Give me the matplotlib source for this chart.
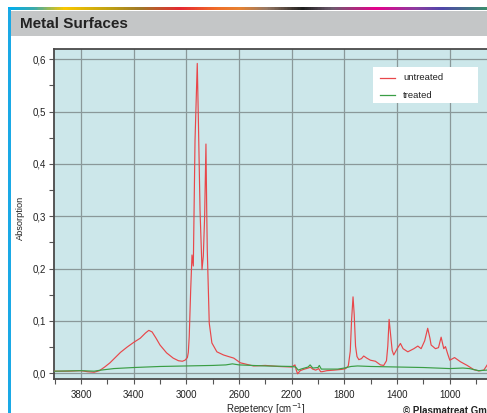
import numpy as np
import matplotlib
matplotlib.use("Agg")
import matplotlib.pyplot as plt
from matplotlib.patches import Rectangle
from matplotlib.lines import Line2D
from matplotlib.colors import LinearSegmentedColormap
from matplotlib.ticker import MultipleLocator, FuncFormatter

plt.rcParams['font.family'] = ['Liberation Sans', 'DejaVu Sans']

# ---------------- data ----------------
untreated_w = [4000, 3900, 3800, 3750, 3700, 3660, 3620, 3580, 3540, 3500, 3450, 3400,
               3350, 3310, 3285, 3260, 3230, 3200, 3150, 3100, 3060, 3030, 3010, 2992,
               2985, 2978, 2967, 2957, 2947, 2934, 2917, 2909, 2896, 2881, 2871, 2861,
               2851, 2845, 2841, 2826, 2806, 2768, 2718, 2680, 2640, 2590, 2490, 2400,
               2300, 2200, 2175, 2165, 2155, 2135, 2109, 2075, 2058, 2040, 2017, 1995,
               1980, 1970, 1932, 1880, 1818, 1790, 1770, 1755, 1745, 1734, 1725, 1715,
               1704, 1690, 1670, 1653, 1630, 1602, 1564, 1526, 1501, 1480, 1470, 1460,
               1450, 1437, 1425, 1399, 1374, 1354, 1318, 1272, 1242, 1217, 1190, 1167,
               1150, 1141, 1108, 1085, 1065, 1045, 1032, 1015, 999, 963, 918, 867, 817,
               779, 741, 720, 700]
untreated_a = [0.004, 0.004, 0.005, 0.003, 0.002, 0.005, 0.012, 0.020, 0.030, 0.040, 0.050, 0.059,
               0.067, 0.077, 0.082, 0.079, 0.067, 0.054, 0.039, 0.029, 0.024, 0.023, 0.025, 0.030,
               0.040, 0.070, 0.159, 0.226, 0.205, 0.445, 0.592, 0.490, 0.312, 0.198, 0.224, 0.300,
               0.438, 0.307, 0.236, 0.096, 0.058, 0.041, 0.035, 0.032, 0.029, 0.020, 0.014, 0.015,
               0.013, 0.012, 0.016, 0.006, -0.001, 0.005, 0.0075, 0.010, 0.0115, 0.008, 0.006, 0.009,
               0.003, 0.003, 0.005, 0.006, 0.0075, 0.009, 0.014, 0.042, 0.102, 0.146, 0.112, 0.052,
               0.032, 0.026, 0.028, 0.033, 0.029, 0.025, 0.023, 0.016, 0.015, 0.024, 0.052, 0.103,
               0.077, 0.044, 0.035, 0.047, 0.057, 0.047, 0.041, 0.047, 0.052, 0.047, 0.062, 0.086,
               0.067, 0.054, 0.047, 0.049, 0.069, 0.047, 0.051, 0.037, 0.025, 0.030, 0.022, 0.015, 0.007,
               0.0045, 0.006, 0.014, 0.022]

treated_w = [4000, 3800, 3700, 3650, 3550, 3400, 3200, 3000, 2800, 2700, 2650, 2600, 2400,
             2200, 2170, 2150, 2130, 2075, 2060, 2040, 2000, 1990, 1975, 1932, 1850, 1800,
             1750, 1700, 1600, 1400, 1200, 1000, 900, 850, 780, 720, 700]
treated_a = [0.004, 0.005, 0.004, 0.006, 0.009, 0.011, 0.013, 0.014, 0.015, 0.016, 0.018, 0.016, 0.014,
             0.013, 0.012, 0.006, 0.008, 0.012, 0.016, 0.010, 0.011, 0.015, 0.008, 0.008, 0.008, 0.010,
             0.013, 0.014, 0.013, 0.012, 0.011, 0.009, 0.010, 0.009, 0.005, 0.006, 0.007]

x_ticks = [3800, 3400, 3000, 2600, 2200, 1800, 1400, 1000]
y_ticks = [0.0, 0.1, 0.2, 0.3, 0.4, 0.5, 0.6]
series_labels = ["untreated", "treated"]
series_colors = ['#e8474a', '#3a9e45']
title = "Metal Surfaces"

# ---------------- figure ----------------
W, H = 487, 413
fig = plt.figure(figsize=(W / 100, H / 100), dpi=100)
fig.patch.set_facecolor('white')

def fx(x):
    return x / W

def fy(y):
    return 1 - y / H

def px_rect(x0, y0, x1, y1, color, z=0):
    fig.patches.append(Rectangle((fx(x0), fy(y1)), (x1 - x0) / W, (y1 - y0) / H,
                                 transform=fig.transFigure, facecolor=color,
                                 edgecolor='none', zorder=z))

# rainbow strip
stops = [(8, (0, 174, 239)), (33, (60, 170, 170)), (63, (250, 200, 0)), (110, (190, 160, 20)),
         (140, (160, 120, 40)), (180, (230, 40, 50)), (217, (240, 110, 40)), (240, (230, 130, 50)),
         (267, (150, 120, 100)), (303, (30, 30, 30)), (333, (110, 90, 110)), (377, (230, 0, 140)),
         (417, (140, 60, 160)), (443, (80, 70, 170)), (487, (60, 140, 110))]
cm = LinearSegmentedColormap.from_list(
    'strip', [((p - 8) / (487 - 8), tuple(c / 255 for c in col)) for p, col in stops])
sax = fig.add_axes([fx(8), fy(10.5), (W - 8) / W, 3.2 / H])
sax.imshow(np.linspace(0, 1, 400)[None, :], aspect='auto', cmap=cm)
sax.axis('off')

# blue left bar and grey title bar
px_rect(8.3, 8.5, 10.8, 413, '#1aa9e6')
px_rect(10.8, 10.8, 487, 35.8, '#c4c6c7')
fig.text(fx(19.5), fy(23.5), title, fontsize=11, fontweight='bold',
         color='#222222', va='center', ha='left')

# ---------------- axes ----------------
xl, xr = 4005, 400
yb, yt = -0.0115, 0.619
ax_left = 54
ax_w = (xl - xr) / 400 * 52.67
ax = fig.add_axes([fx(ax_left), (H - 379.3) / H, ax_w / W, 330 / H])
ax.set_facecolor('#cce7ea')
ax.set_xlim(xl, xr)
ax.set_ylim(yb, yt)

ax.plot(untreated_w, untreated_a, color=series_colors[0], lw=0.85, zorder=3)
ax.plot(treated_w, treated_a, color=series_colors[1], lw=0.85, zorder=3)

ax.set_xticks(x_ticks)
ax.xaxis.set_minor_locator(MultipleLocator(200))
ax.set_yticks(y_ticks)
ax.yaxis.set_minor_locator(MultipleLocator(0.05))
ax.yaxis.set_major_formatter(FuncFormatter(lambda v, p: f"{v:.1f}".replace('.', ',')))
ax.grid(True, which='major', color='#8a9899', lw=0.9, zorder=1)
ax.set_axisbelow(True)

for s in ['left', 'bottom', 'top']:
    ax.spines[s].set_color('#4a4a4a')
    ax.spines[s].set_linewidth(1.3)
ax.spines['right'].set_visible(False)

ax.tick_params(which='both', direction='out', color='#555555', width=0.8,
               labelsize=7, labelcolor='#222222')
ax.tick_params(axis='y', which='major', length=3.5, pad=2.5)
ax.tick_params(axis='y', which='minor', length=3.5)
ax.tick_params(axis='x', which='major', length=3.5, pad=4.5)
ax.tick_params(axis='x', which='minor', length=3.5)

# legend box (white, borderless) drawn in figure pixels
px_rect(373, 67, 478, 103, 'white', z=10)
for i, (lab, col) in enumerate(zip(series_labels, series_colors)):
    yy = 78 + i * 17
    fig.lines.append(Line2D([fx(380), fx(395)], [fy(yy), fy(yy)], transform=fig.transFigure,
                            color=col, lw=0.9, zorder=11))
    fig.text(fx(403), fy(yy), lab, fontsize=6.8, color='#222222', ha='left', va='center',
             zorder=12)

fig.text(fx(20.5), fy(217.5), "Absorption", rotation=90, fontsize=6.6,
         ha='center', va='center', color='#222222')
fig.text(fx(266), fy(413.5), "Repetency [cm$^{-1}$]", fontsize=7,
         ha='center', va='baseline', color='#222222')
fig.text(fx(403), fy(413.5), "© Plasmatreat GmbH", fontsize=7, fontweight='bold',
         ha='left', va='baseline', color='#222222')

fig.savefig('out.png', dpi=100)
